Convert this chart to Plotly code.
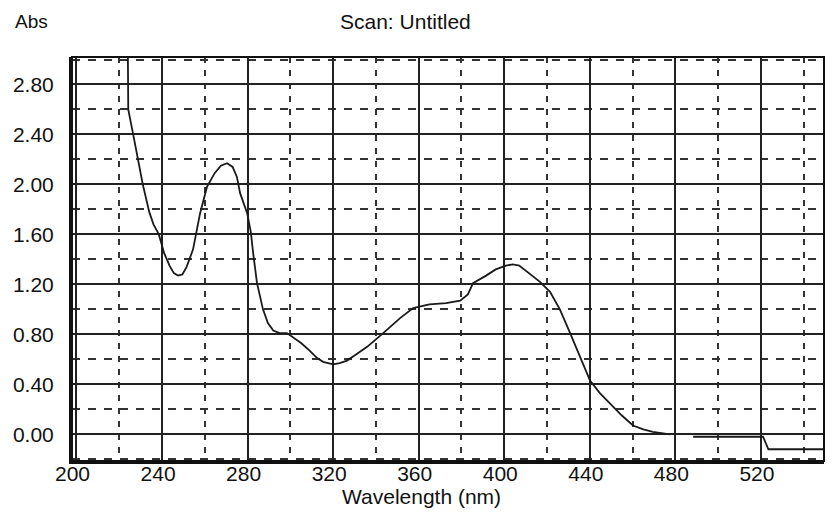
import plotly.graph_objects as go

# Absorbance scan data
wavelength = [224.0, 224.2, 226.5, 231.0, 234.0, 236.0, 238.5, 241.0, 243.5, 245.5, 247.5,
              249.5, 251.5, 254.5, 257.8, 261.0, 264.6, 267.5, 270.4, 273.0, 275.0,
              276.5, 279.8, 281.5, 282.6, 284.4, 287.2, 289.5, 292.0, 295.0, 298.4,
              301.0, 305.0, 309.0, 312.5, 315.3, 318.0, 320.0, 323.0, 326.5, 330.0,
              335.9, 343.4, 351.3, 357.4, 365.0, 372.8, 379.4, 383.0, 385.4, 391.5,
              396.0, 400.8, 404.0, 407.0, 410.0, 416.7, 421.4, 426.0, 430.8, 435.5,
              440.1, 444.7, 450.9, 455.0, 460.2, 465.0, 469.5, 477.5, 483.0, 488.3,
              500.0, 510.0, 521.0, 523.5, 535.0, 549.5]
absorbance = [3.10, 2.60, 2.40, 2.00, 1.78, 1.68, 1.60, 1.45, 1.35, 1.29, 1.27,
              1.28, 1.34, 1.48, 1.77, 1.98, 2.09, 2.15, 2.17, 2.14, 2.06,
              1.93, 1.77, 1.62, 1.45, 1.21, 1.00, 0.89, 0.83, 0.81, 0.81,
              0.78, 0.73, 0.67, 0.61, 0.58, 0.565, 0.56, 0.57, 0.59, 0.63,
              0.70, 0.81, 0.93, 1.01, 1.04, 1.05, 1.07, 1.12, 1.21, 1.27,
              1.32, 1.35, 1.36, 1.35, 1.31, 1.22, 1.14, 1.00, 0.81, 0.62,
              0.43, 0.33, 0.22, 0.15, 0.07, 0.04, 0.02, 0.00, None, -0.02,
              -0.02, -0.02, -0.02, -0.12, -0.12, -0.12]

x_ticks = [200, 240, 280, 320, 360, 400, 440, 480, 520]
y_ticks = [0.0, 0.4, 0.8, 1.2, 1.6, 2.0, 2.4, 2.8]
y_tick_text = ["%.2f" % v for v in y_ticks]

FONT = "Liberation Sans, Arial, sans-serif"

fig = go.Figure()
fig.add_trace(go.Scatter(
    x=wavelength, y=absorbance, mode="lines",
    line=dict(color="#1a1a1a", width=1.8),
    connectgaps=False, hoverinfo="skip", showlegend=False,
))

# page body has an 8px margin, so the figure is 8px smaller than the window
fig.update_layout(
    width=825, height=504,
    margin=dict(l=64, r=9, t=49, b=51, autoexpand=False),
    paper_bgcolor="white", plot_bgcolor="white",
    font=dict(family=FONT, size=21, color="#111111"),
    xaxis=dict(
        range=[197.9, 549.5], automargin=False,
        tickmode="array", tickvals=x_ticks, ticktext=[str(v) for v in x_ticks],
        showgrid=True, gridcolor="#222222", gridwidth=1.5,
        zeroline=False, showline=True, linecolor="#111111", linewidth=3,
        ticks="", ticklabelshift=-4, ticklabelstandoff=-8,
        minor=dict(tick0=220, dtick=40, showgrid=True, gridcolor="#333333",
                   gridwidth=1.5, griddash="6px,7px"),
        tickfont=dict(size=21),
    ),
    yaxis=dict(
        range=[-0.214, 3.02], automargin=False,
        tickmode="array", tickvals=y_ticks, ticktext=y_tick_text,
        showgrid=True, gridcolor="#222222", gridwidth=1.5,
        zeroline=False, showline=True, linecolor="#111111", linewidth=3,
        ticks="", ticklabelstandoff=11,
        minor=dict(tick0=0.2, dtick=0.4, showgrid=True, gridcolor="#333333",
                   gridwidth=1.5, griddash="8px,8px"),
        tickfont=dict(size=21),
    ),
    shapes=[dict(type="rect", xref="paper", yref="paper", x0=0, x1=1, y0=0, y1=1,
                 line=dict(color="#111111", width=2), layer="above")],
    annotations=[
        dict(text="Abs", xref="paper", yref="paper", x=-0.0785, y=1.089,
             xanchor="left", yanchor="middle", showarrow=False,
             font=dict(size=19)),
        dict(text="Scan: Untitled", xref="paper", yref="paper", x=0.444, y=1.089,
             xanchor="center", yanchor="middle", showarrow=False,
             font=dict(size=21)),
        dict(text="Wavelength (nm)", xref="paper", yref="paper", x=0.465, y=-0.089,
             xanchor="center", yanchor="middle", showarrow=False,
             font=dict(size=21)),
    ],
)

fig.write_html("out.html")
